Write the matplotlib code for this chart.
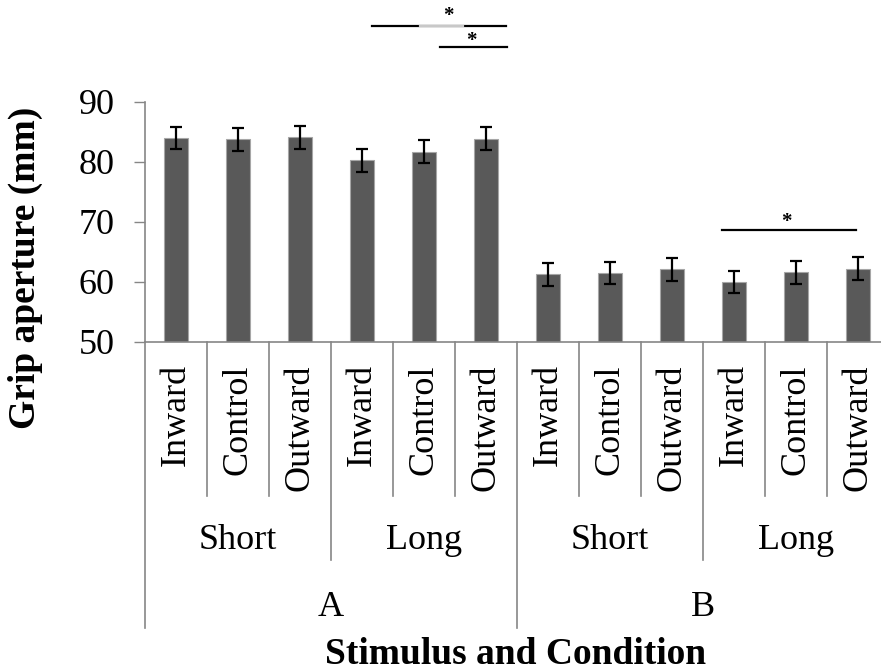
import matplotlib
matplotlib.use("Agg")
import matplotlib.pyplot as plt
import matplotlib.transforms as mtransforms

plt.rcParams['font.family'] = ['Liberation Serif', 'DejaVu Serif']

# --- data ---
conditions = ["Inward", "Control", "Outward"] * 4
lengths = ["Short", "Long", "Short", "Long"]
stimuli = ["A", "B"]
means = [84.0, 83.8, 84.1, 80.3, 81.7, 83.9, 61.3, 61.5, 62.1, 60.0, 61.6, 62.2]
errors = [1.9, 1.9, 1.9, 1.9, 1.9, 1.9, 1.9, 1.9, 1.9, 1.9, 1.9, 1.9]

# significance brackets: (x start, x end, line y, star x, star y)
sig_lines = [
    (3.16, 5.32, 102.7, 4.39, 104.4),
    (4.26, 5.34, 99.1, 4.77, 100.2),
    (8.81, 10.97, 68.7, 9.85, 70.0),
]

AXIS_GRAY = "#868686"

fig = plt.figure(figsize=(8.81, 6.72), dpi=100)
ax = fig.add_axes([145 / 881, 1 - 342 / 672, 744 / 881, 240 / 672])

x = list(range(len(means)))
ax.bar(x, means, width=0.4, color="#595959", edgecolor="#a6a6a6", linewidth=0.8, zorder=2)
ax.errorbar(x, means, yerr=errors, fmt="none", ecolor="black", elinewidth=1.6,
            capsize=4.5, capthick=1.6, zorder=3)

ax.set_xlim(-0.5, len(means) - 0.5)
ax.set_ylim(50, 90)
ax.set_yticks([50, 60, 70, 80, 90])
ax.tick_params(axis="y", labelsize=26, length=8, width=1, color=AXIS_GRAY, pad=14)

ax.set_xticks(x)
ax.set_xticklabels(conditions, rotation=90, fontsize=26)
ax.tick_params(axis="x", length=0, pad=16)

for side in ["top", "right"]:
    ax.spines[side].set_visible(False)
for side in ["left", "bottom"]:
    ax.spines[side].set_color(AXIS_GRAY)
    ax.spines[side].set_linewidth(1.2)

# hierarchical category dividers
trans = mtransforms.blended_transform_factory(ax.transData, ax.transAxes)
for i in range(len(means) + 1):
    if i % 6 == 0:
        y_end = -1.19
    elif i % 3 == 0:
        y_end = -0.91
    else:
        y_end = -0.64
    ax.plot([i - 0.5, i - 0.5], [0, y_end], color=AXIS_GRAY, lw=1.2,
            transform=trans, clip_on=False)

for j, name in enumerate(lengths):
    ax.text(3 * j + 1, -0.825, name, transform=trans, ha="center", va="center", fontsize=26)
for j, name in enumerate(stimuli):
    ax.text(6 * j + 2.5, -1.105, name, transform=trans, ha="center", va="center", fontsize=26)

fig.text(516 / 881, 1 - 654 / 672, "Stimulus and Condition", ha="center", va="center",
         fontsize=27, fontweight="bold")
fig.text(25 / 881, 1 - 268 / 672, "Grip aperture (mm)", ha="center", va="center",
         rotation=90, fontsize=27, fontweight="bold")

# significance markers
for x0, x1, y, sx, sy in sig_lines:
    ax.plot([x0, x1], [y, y], color="black", lw=1.6, clip_on=False)
    ax.text(sx, sy, "*", ha="center", va="center", fontsize=15, fontweight="bold", clip_on=False)
# lighter stretch on the top bracket
ax.plot([3.94, 4.63], [102.7, 102.7], color="#c8c8c8", lw=1.6, clip_on=False)

fig.savefig("out.png", dpi=100)
